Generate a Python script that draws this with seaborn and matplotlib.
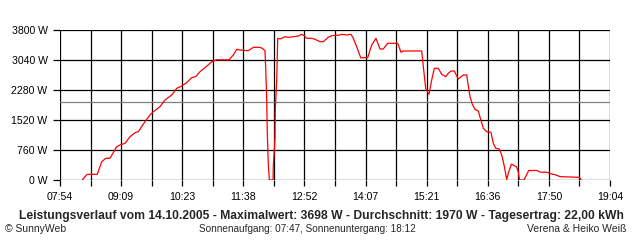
import numpy as np
import pandas as pd
import matplotlib
matplotlib.use("Agg")
import matplotlib.pyplot as plt
import seaborn as sns

# time in minutes after midnight, power in W
minutes = [501.2, 504.5, 507.3, 519.4, 524.8, 529.7, 534.9, 543.1, 547.1, 553.2,
           559.3, 565.4, 569.4, 577.5, 583.6, 587.7, 595.8, 601.9, 610.1, 616.2,
           622.3, 628.3, 634.4, 639.3, 644.5, 650.6, 656.7, 660.7, 664.9, 679.9,
           685.1, 689.3, 693.3, 703.4, 709.5, 717.6, 720.4, 723.7, 724.6, 725.8,
           726.5, 727.7, 729.0, 733.5, 733.8, 735.9, 736.3, 738.0, 739.2, 742.0,
           748.1, 752.1, 758.2, 764.3, 768.4, 771.6, 774.5, 780.6, 784.6, 790.7,
           794.7, 800.8, 805.0, 815.1, 817.2, 823.3, 828.5, 831.3, 835.4, 840.3,
           848.8, 853.7, 858.9, 863.8, 867.8, 873.2, 885.4, 889.4, 892.2, 914.6,
           916.6, 919.5, 921.4, 923.5, 926.8, 930.0, 934.8, 939.0, 943.8, 947.0,
           950.3, 954.3, 959.2, 965.3, 969.4, 972.2, 973.5, 976.3, 979.5, 983.6,
           985.6, 989.7, 993.8, 999.0, 1001.8, 1004.8, 1009.1, 1012.1, 1014.9, 1018.2,
           1020.1, 1023.8, 1026.2, 1030.3, 1032.3, 1033.8, 1039.2, 1045.0, 1055.1, 1059.3,
           1066.9, 1073.0, 1078.2, 1083.1, 1106.9, 1108.7]
watts = [0, 84, 144, 144, 464, 550, 550, 844, 887, 930,
         1097, 1198, 1224, 1477, 1647, 1730, 1857, 2027, 2153, 2323,
         2381, 2465, 2592, 2617, 2744, 2845, 2956, 3022, 3045, 3045,
         3167, 3311, 3293, 3276, 3361, 3361, 3336, 3276, 2830, 2027,
         1224, 423, 0, 0, 337, 1056, 1816, 2533, 3590, 3572,
         3630, 3615, 3630, 3648, 3691, 3656, 3590, 3590, 3564, 3504,
         3504, 3615, 3656, 3673, 3691, 3673, 3691, 3590, 3377, 3098,
         3098, 3420, 3590, 3319, 3319, 3463, 3463, 3235, 3268, 3268,
         2870, 2323, 2237, 2171, 2533, 2830, 2830, 2678, 2617, 2703,
         2761, 2761, 2559, 2660, 2660, 2280, 2111, 1917, 1790, 1748,
         1596, 1309, 1224, 1208, 930, 803, 785, 633, 380, 13,
         170, 400, 380, 329, 203, 0, 0, 241, 241, 198,
         195, 152, 127, 84, 68, 0]

average_w = 1970
x_start, x_end = 474, 1144  # 07:54 .. 19:04
x_tick_labels = ["07:54", "09:09", "10:23", "11:38", "12:52",
                 "14:07", "15:21", "16:36", "17:50", "19:04"]
y_ticks = [0, 760, 1520, 2280, 3040, 3800]
y_tick_labels = ["0 W", "760 W", "1520 W", "2280 W", "3040 W", "3800 W"]

title = ("Leistungsverlauf vom 14.10.2005 - Maximalwert: 3698 W - "
         "Durchschnitt: 1970 W - Tagesertrag: 22,00 kWh")
foot_left = "\u00a9 SunnyWeb"
foot_mid = "Sonnenaufgang: 07:47, Sonnenuntergang: 18:12"
foot_right = "Verena & Heiko Wei\u00df"

sns.set_style("white")
plt.rcParams["font.family"] = ["Liberation Sans", "DejaVu Sans"]

fig = plt.figure(figsize=(6.4, 2.4), dpi=100)
ax = fig.add_axes([60 / 640, 1 - 180 / 240, 550 / 640, 150 / 240])

df = pd.DataFrame({"t": minutes, "w": watts})

grid_x = np.linspace(x_start, x_end, 19)
for gx in grid_x:
    ax.axvline(gx, color="black", lw=0.9, zorder=1)
for gy in y_ticks:
    ax.axhline(gy, color="black", lw=0.9, zorder=1)
ax.axhline(average_w, color="#808080", lw=0.9, zorder=1)

sns.lineplot(data=df, x="t", y="w", color="red", lw=0.9, sort=False,
             estimator=None, ax=ax, zorder=3)

ax.set_xlim(x_start, x_end)
ax.set_ylim(0, 3800)
ax.set_xticks(grid_x[::2])
ax.set_xticklabels(x_tick_labels)
ax.set_xticks(grid_x[1::2], minor=True)
ax.set_yticks(y_ticks)
ax.set_yticklabels(y_tick_labels)
ax.set_xlabel("")
ax.set_ylabel("")
for s in ax.spines.values():
    s.set_visible(False)
ax.tick_params(axis="both", which="both", direction="out", color="black",
               width=0.9, labelsize=7.6, labelcolor="black", bottom=True, left=True)
ax.tick_params(axis="x", which="both", length=4, pad=5)
ax.tick_params(axis="y", length=5, pad=4)

fig.text(321 / 640, 1 - 216 / 240, title, ha="center", va="center",
         fontsize=8.7, fontweight="bold")
fig.text(5 / 640, 1 - 229 / 240, foot_left, ha="left", va="center", fontsize=7.5)
fig.text(307 / 640, 1 - 229 / 240, foot_mid, ha="center", va="center", fontsize=7.2)
fig.text(626 / 640, 1 - 229 / 240, foot_right, ha="right", va="center", fontsize=7.5)

fig.savefig("out.png", dpi=100, facecolor="white")
